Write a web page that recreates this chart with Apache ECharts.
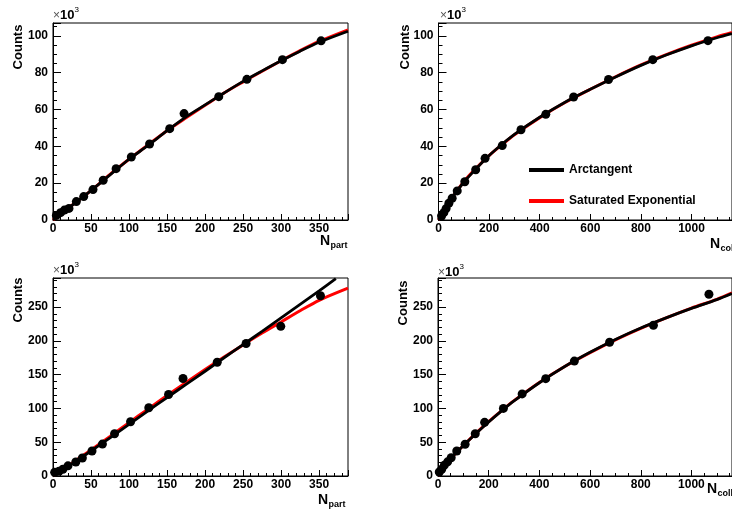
<!DOCTYPE html>
<html><head><meta charset="utf-8">
<script src="https://cdn.jsdelivr.net/npm/echarts@6/dist/echarts.min.js"></script>
<style>html,body{margin:0;padding:0;background:#fff}#c{width:732px;height:512px}</style>
</head><body><div id="c"></div>
<script>
// ---------- data (counts in units of 10^3) ----------
// Panel 1: Counts vs N_part (top-left)
const npart1  = [4.4, 10, 15, 21, 30.7, 40.4, 52.6, 66, 83, 103, 127, 153.5, 172.4, 218, 255, 301.8, 352.6];
const counts1 = [2.5, 4, 5.4, 6.3, 10, 12.7, 16.5, 21.6, 27.9, 34.2, 41.3, 49.6, 57.8, 67, 76.4, 87.1, 97.3];
const fitX1   = [0, 25, 50, 75, 100, 125, 150, 175, 200, 225, 250, 275, 300, 325, 350, 388];
const arctan1 = [0, 8, 16, 24.5, 33, 40.5, 48.5, 56, 62.5, 69, 75.3, 81, 86.5, 91.7, 96.5, 102.5];
const satexp1 = [0, 8, 16, 24.8, 33, 40.8, 48.5, 55.5, 62.3, 69, 75, 80.8, 86.5, 92, 97, 103.3];

// Panel 2: Counts vs N_coll (top-right)
const ncoll2  = [12, 21, 30, 41, 54, 74, 104, 147, 184, 252, 326, 424, 534, 672, 847, 1065];
const counts2 = [2.2, 4, 6.2, 9.1, 11.8, 15.8, 20.8, 27.3, 33.5, 40.4, 49, 57.4, 66.8, 76.3, 87.1, 97.4];
const fitX2   = [0, 25, 50, 100, 150, 200, 250, 300, 400, 500, 600, 700, 800, 900, 1000, 1100, 1160];
const arctan2 = [0, 6.5, 11.5, 20.5, 28, 35, 41, 46.5, 55.8, 64, 71, 77.7, 84, 89.6, 94.6, 99, 101.3];
const satexp2 = [0, 6.3, 11.5, 20.8, 28.3, 35, 40.8, 46.3, 55.6, 63.8, 71, 77.8, 84.2, 89.8, 94.9, 99.5, 101.9];

// Panel 3: Counts vs N_part (bottom-left)
const npart3  = [2.2, 7.9, 13, 19.7, 30, 38.6, 51.3, 65, 81, 102, 126, 152, 171, 216, 254, 299.6, 351.8];
const counts3 = [5.4, 7, 10, 15, 20.7, 26.6, 37, 47.2, 62.5, 80.2, 101, 120.6, 144.2, 168.3, 196, 221.5, 266.7];
const fitX3a  = [0, 25, 50, 75, 100, 125, 150, 175, 200, 225, 250, 275, 300, 325, 350, 372];
const arctan3 = [0, 18, 37, 56.5, 76.5, 96.5, 116, 135.5, 155, 175, 194.5, 214, 234, 254, 274, 292];
const fitX3s  = [0, 25, 50, 75, 100, 125, 150, 175, 200, 225, 250, 275, 300, 325, 350, 388];
const satexp3 = [0, 19, 38.5, 58.5, 79, 99, 119, 138.5, 157.5, 176, 194, 211.5, 228, 244.5, 260, 278];

// Panel 4: Counts vs N_coll (bottom-right)
const ncoll4  = [5, 14.6, 25, 38, 52, 74, 107, 147, 184, 258, 332, 425, 538, 677, 850, 1069];
const counts4 = [6, 10, 16, 21, 27, 37, 47, 62.5, 79.4, 100, 121.5, 144, 170, 198, 223, 269];
const fitX4   = [0, 25, 50, 100, 150, 200, 250, 300, 400, 500, 600, 700, 800, 900, 1000, 1100, 1160];
const arctan4 = [0, 14, 26, 45, 63, 80, 96, 111, 138, 162, 183, 202, 219, 234, 248, 261, 270];
const satexp4 = [0, 13.5, 25.5, 45, 63.5, 80.5, 96.5, 111.5, 138.5, 162, 182.5, 201.5, 218.5, 234, 248.5, 261.5, 271];

// axis ranges / ticks
const xMaxPart = 388, xMaxColl = 1160, yMaxTop = 107, yMaxBot = 293;

// ---------- helpers ----------
const FONT = '"Liberation Sans", Arial, Helvetica, sans-serif';
const pairs = (xs, ys) => xs.map((x, i) => [x, ys[i]]);
const plain = v => String(v);

function xAx(gi, max, interval, minorSplit) {
  return {
    type: 'value', gridIndex: gi, min: 0, max: max, interval: interval,
    axisLine: { show: true, onZero: false, lineStyle: { color: '#000', width: 1 } },
    axisTick: { show: true, inside: true, length: 6, lineStyle: { color: '#000', width: 1 } },
    minorTick: { show: true, splitNumber: minorSplit, length: 3, lineStyle: { color: '#000', width: 1 } },
    splitLine: { show: false },
    axisLabel: { show: true, showMaxLabel: false, margin: 3, formatter: plain, color: '#000', fontWeight: 'bold', fontSize: 12, fontFamily: FONT }
  };
}
function yAx(gi, max, interval, minorSplit) {
  return {
    type: 'value', gridIndex: gi, min: 0, max: max, interval: interval,
    axisLine: { show: true, onZero: false, lineStyle: { color: '#000', width: 1 } },
    axisTick: { show: true, inside: true, length: 8, lineStyle: { color: '#000', width: 1 } },
    minorTick: { show: true, splitNumber: minorSplit, length: 4, lineStyle: { color: '#000', width: 1 } },
    splitLine: { show: false },
    axisLabel: { show: true, showMaxLabel: false, margin: 5, formatter: plain, color: '#000', fontWeight: 'bold', fontSize: 12, fontFamily: FONT }
  };
}
function panelSeries(gi, px, py, fxA, fyA, fxS, fyS) {
  return [
    { name: 'Saturated Exponential', type: 'line', xAxisIndex: gi, yAxisIndex: gi, data: pairs(fxS, fyS),
      smooth: 0.3, showSymbol: false, symbol: 'none', z: 2, color: '#ff0000', lineStyle: { color: '#ff0000', width: 3 } },
    { name: 'Arctangent', type: 'line', xAxisIndex: gi, yAxisIndex: gi, data: pairs(fxA, fyA),
      smooth: 0.3, showSymbol: false, symbol: 'none', z: 3, color: '#000', lineStyle: { color: '#000', width: 2.8 } },
    { name: 'data', type: 'scatter', xAxisIndex: gi, yAxisIndex: gi, data: pairs(px, py),
      symbol: 'circle', symbolSize: 9, z: 4, itemStyle: { color: '#000', opacity: 1 } }
  ];
}
function txt(x, y, text, font, extra) {
  const st = Object.assign({ text: text, font: font, fill: '#000', align: 'left', verticalAlign: 'top',
    textAlign: 'left', textVerticalAlign: 'top' }, extra || {});
  return { type: 'text', x: x, y: y, silent: true, z: 100, style: st };
}
function counts(cx, cy) {
  return { type: 'text', x: cx, y: cy, rotation: Math.PI / 2, silent: true, z: 100,
    style: { text: 'Counts', font: 'bold 13px ' + FONT, fill: '#000', align: 'center', verticalAlign: 'middle',
             textAlign: 'center', textVerticalAlign: 'middle' } };
}
function times10(x, y) {
  return [
    txt(x, y + 1, '\u00d7', '12px ' + FONT, { fill: '#555' }),
    txt(x + 7, y, '10', 'bold 13px ' + FONT),
    txt(x + 21.5, y - 3, '3', '8px ' + FONT)
  ];
}
function xTitle(x, y, sub) {
  return [
    txt(x, y, 'N', 'bold 14px ' + FONT),
    txt(x + 10.5, y + 7, sub, 'bold 9px ' + FONT)
  ];
}

const chart = echarts.init(document.getElementById('c'), null, { renderer: 'canvas' });
const gridStyle = { show: true, borderColor: '#000', borderWidth: 1, backgroundColor: 'transparent', containLabel: false };
chart.setOption({
  animation: false,
  backgroundColor: '#fff',
  grid: [
    Object.assign({ left: 53, top: 23, width: 295, height: 197 }, gridStyle),
    Object.assign({ left: 438.5, top: 23, width: 295, height: 197 }, gridStyle),
    Object.assign({ left: 53, top: 278, width: 295, height: 198 }, gridStyle),
    Object.assign({ left: 438, top: 278, width: 295, height: 198 }, gridStyle)
  ],
  xAxis: [
    xAx(0, xMaxPart, 50, 5),
    xAx(1, xMaxColl, 200, 4),
    xAx(2, xMaxPart, 50, 5),
    xAx(3, xMaxColl, 200, 4)
  ],
  yAxis: [
    yAx(0, yMaxTop, 20, 4),
    yAx(1, yMaxTop, 20, 4),
    yAx(2, yMaxBot, 50, 5),
    yAx(3, yMaxBot, 50, 5)
  ],
  legend: {
    data: ['Arctangent', 'Saturated Exponential'], orient: 'vertical', left: 524, top: 159,
    itemWidth: 35, itemHeight: 4, itemGap: 19, icon: 'rect', selectedMode: false,
    textStyle: { fontWeight: 'bold', fontSize: 12, fontFamily: FONT, color: '#000' }
  },
  series: [].concat(
    panelSeries(0, npart1, counts1, fitX1, arctan1, fitX1, satexp1),
    panelSeries(1, ncoll2, counts2, fitX2, arctan2, fitX2, satexp2),
    panelSeries(2, npart3, counts3, fitX3a, arctan3, fitX3s, satexp3),
    panelSeries(3, ncoll4, counts4, fitX4, arctan4, fitX4, satexp4)
  ),
  graphic: [].concat(
    [counts(18, 47), counts(405, 47), counts(18, 300), counts(403, 303)],
    times10(53, 9), times10(440, 9), times10(53, 264), times10(438, 266),
    xTitle(320, 234, 'part'), xTitle(710, 237, 'coll'),
    xTitle(318, 493, 'part'), xTitle(707, 482, 'coll')
  )
});
</script>
</body></html>
